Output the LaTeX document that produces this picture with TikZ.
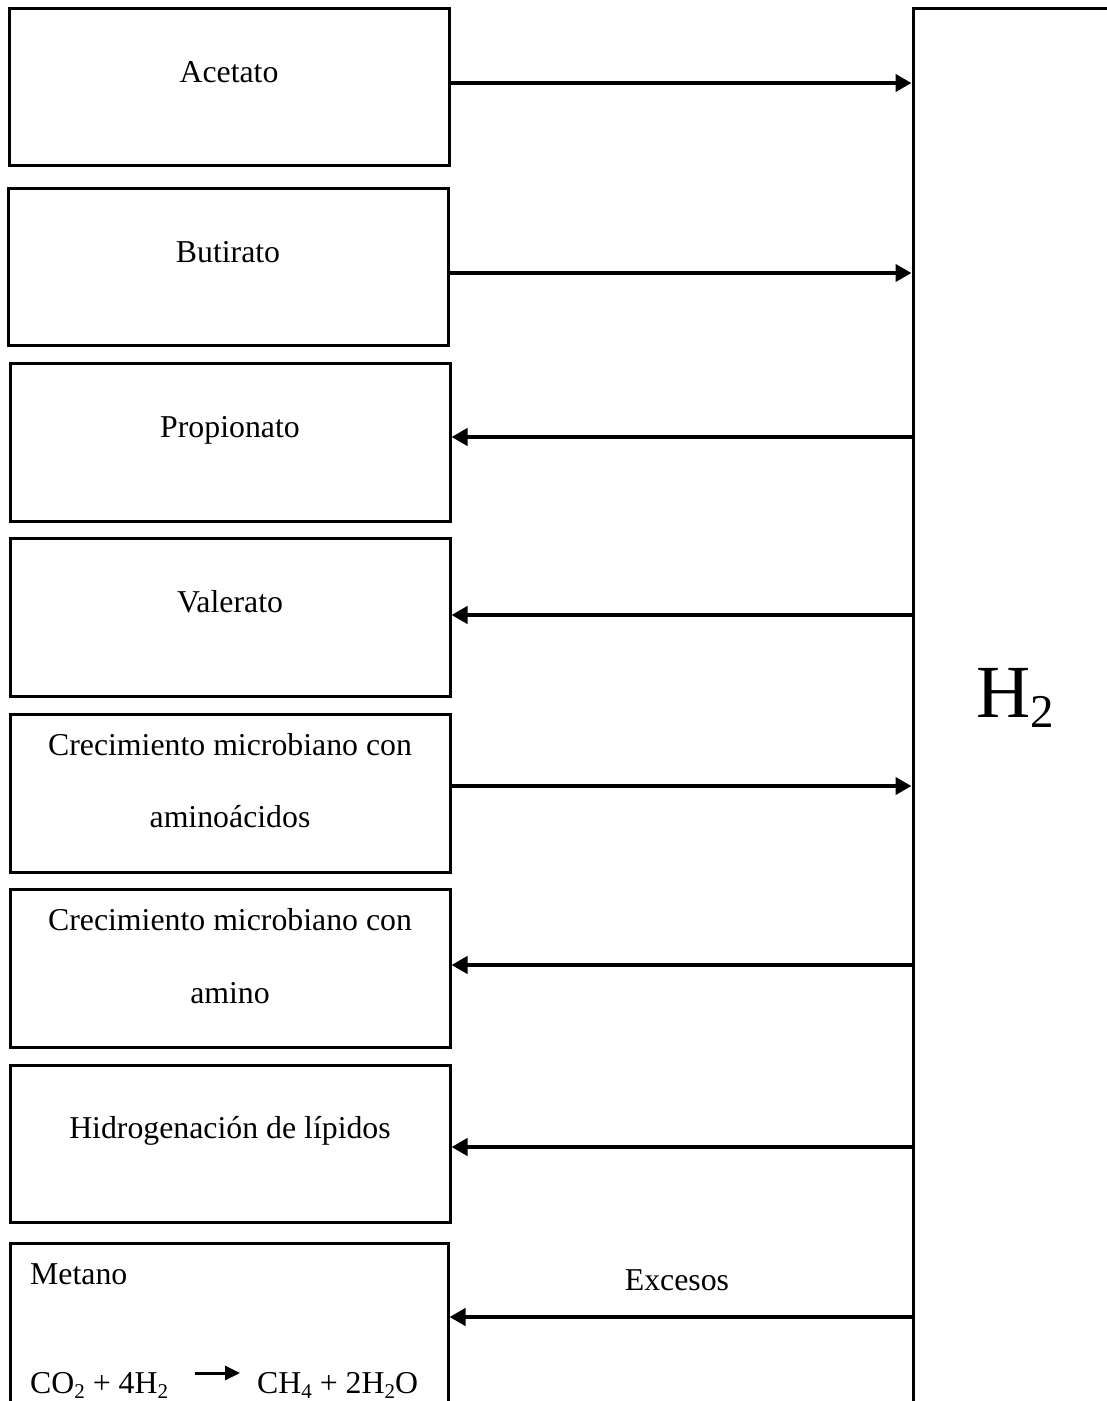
\documentclass[tikz,border=0pt]{standalone}
\usepackage{fontspec}
\setmainfont{Liberation Serif}
\usetikzlibrary{arrows.meta}
\newcommand\mysub[1]{\raisebox{-5pt}{\fontsize{21}{21}\selectfont #1}}
\begin{document}
\begin{tikzpicture}[x=1pt,y=-1pt,
  boxst/.style={draw,line width=3pt,inner sep=0pt},
  txt/.style={font=\fontsize{31.8}{38}\selectfont,inner sep=0pt,anchor=base},
  conn/.style={line width=4pt,-{Triangle[length=16pt,width=17pt]}},
  eqarr/.style={line width=3pt,-{Triangle[length=15pt,width=14pt]}}]
\useasboundingbox (0,0) rectangle (1107,1401);
% boxes
\node[boxst,minimum width=440pt,minimum height=157pt] (b1) at (229,86.5) {};
\node[boxst,minimum width=440pt,minimum height=157pt] (b2) at (228,266.5) {};
\node[boxst,minimum width=440pt,minimum height=158pt] (b3) at (230,442) {};
\node[boxst,minimum width=440pt,minimum height=158pt] (b4) at (230,617) {};
\node[boxst,minimum width=440pt,minimum height=158pt] (b5) at (230,793) {};
\node[boxst,minimum width=440pt,minimum height=158pt] (b6) at (230,968) {};
\node[boxst,minimum width=440pt,minimum height=157pt] (b7) at (230,1143.5) {};
\node[boxst,minimum width=438pt,minimum height=162pt] (b8) at (229,1324) {};
% H2 big box
\node[boxst,minimum width=220pt,minimum height=1420pt] (h2) at (1023,718) {};
% texts
\node[txt] (t1) at (229,82) {Acetato};
\node[txt] (t2) at (228,262) {Butirato};
\node[txt] (t3) at (230,437) {Propionato};
\node[txt] (t4) at (230,612) {Valerato};
\node[txt] (t5a) at (230,755) {Crecimiento microbiano con};
\node[txt] (t5b) at (230,827) {aminoácidos};
\node[txt] (t6a) at (230,930) {Crecimiento microbiano con};
\node[txt] (t6b) at (230,1003) {amino};
\node[txt] (t7) at (230,1138) {Hidrogenación de lípidos};
\node[txt,anchor=base west] (t8) at (30,1284) {Metano};
\node[txt,anchor=base west] (eqL) at (30,1393) {CO\mysub{2} + 4H\mysub{2}};
\node[txt,anchor=base west] (eqR) at (257,1393) {CH\mysub{4} + 2H\mysub{2}O};
\node[txt] (exc) at (677,1290) {Excesos};
\node[font=\fontsize{75}{90}\selectfont,inner sep=0pt,anchor=base] (h2t) at (1015,717) {H\raisebox{-10pt}{\fontsize{47}{50}\selectfont 2}};
% connectors
\draw[conn] (b1.east |- 0,83) -- (h2.west |- 0,83);
\draw[conn] (b2.east |- 0,273) -- (h2.west |- 0,273);
\draw[conn] (h2.west |- 0,437) -- (b3.east |- 0,437);
\draw[conn] (h2.west |- 0,615) -- (b4.east |- 0,615);
\draw[conn] (b5.east |- 0,786) -- (h2.west |- 0,786);
\draw[conn] (h2.west |- 0,965) -- (b6.east |- 0,965);
\draw[conn] (h2.west |- 0,1147) -- (b7.east |- 0,1147);
\draw[conn] (h2.west |- 0,1317) -- (b8.east |- 0,1317);
\draw[eqarr] ([xshift=27pt]eqL.east |- 0,1373) -- ([xshift=-17pt]eqR.west |- 0,1373);
\end{tikzpicture}
\end{document}
